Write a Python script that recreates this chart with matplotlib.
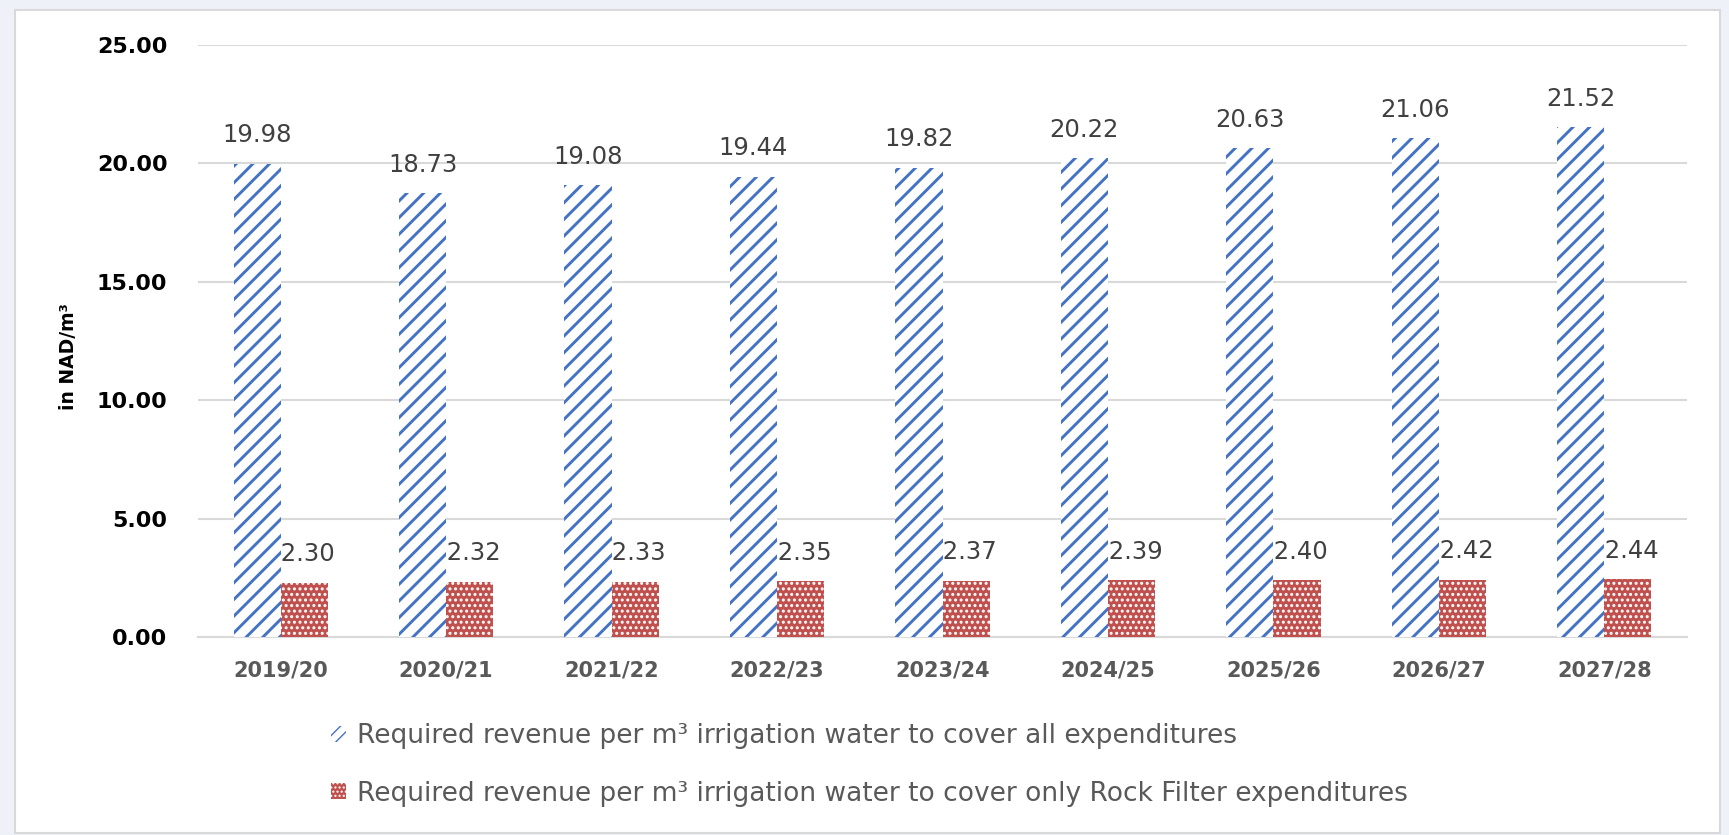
import matplotlib
matplotlib.use("Agg")
import matplotlib.pyplot as plt
from matplotlib.patches import Rectangle, Patch
import numpy as np

categories = ["2019/20", "2020/21", "2021/22", "2022/23", "2023/24",
              "2024/25", "2025/26", "2026/27", "2027/28"]
all_exp = [19.98, 18.73, 19.08, 19.44, 19.82, 20.22, 20.63, 21.06, 21.52]
rock_exp = [2.30, 2.32, 2.33, 2.35, 2.37, 2.39, 2.40, 2.42, 2.44]
labels = ["Required revenue per m\u00b3 irrigation water to cover all expenditures",
          "Required revenue per m\u00b3 irrigation water to cover only Rock Filter expenditures"]
yticks = [0, 5, 10, 15, 20, 25]

plt.rcParams['font.family'] = ['DejaVu Sans']

W, H = 1729, 835
fig = plt.figure(figsize=(W / 100, H / 100), dpi=100, facecolor="#EEF2F8")
fig.patches.append(Rectangle((15 / W, 2 / H), (1720 - 15) / W, (825 - 2) / H,
                             transform=fig.transFigure, facecolor="white",
                             edgecolor="#D9D9D9", linewidth=1.5, zorder=-5))

ax = fig.add_axes([198 / W, 1 - 637 / H, (1687 - 198) / W, (637 - 45) / H])
ax.set_facecolor("none")
ax.set_zorder(2)

x = np.arange(len(categories))
bw = 0.285

with plt.rc_context({'hatch.linewidth': 2.1}):
    b1 = ax.bar(x - bw / 2, all_exp, bw, facecolor="white", edgecolor="#4472C4",
                linewidth=0, hatch="//", zorder=3)
with plt.rc_context({'hatch.linewidth': 1.4}):
    b2 = ax.bar(x + bw / 2, rock_exp, bw, facecolor="#C0504D", edgecolor="white",
                linewidth=0, hatch="...", zorder=3)

ax.bar_label(b1, labels=[f"{v:.2f}" for v in all_exp], padding=12,
             fontsize=17.5, color="#404040")
ax.bar_label(b2, labels=[f" {v:.2f}" for v in rock_exp], padding=12,
             fontsize=17.5, color="#404040")

ax.set_xlim(-0.5, len(categories) - 0.5)
ax.set_ylim(0, 25)
ax.set_yticks(yticks)
ax.set_yticklabels([f"{v:.2f}" for v in yticks], fontsize=16, fontweight="bold",
                   color="black")
ax.set_xticks(x)
ax.set_xticklabels(categories, fontsize=15, fontweight="bold", color="#595959")
ax.tick_params(axis="y", length=0, pad=22)
ax.tick_params(axis="x", length=0, pad=17)
ax.grid(axis="y", color="#D9D9D9", linewidth=1.5, zorder=0)
for s in ["left", "right", "top"]:
    ax.spines[s].set_visible(False)
ax.spines["bottom"].set_color("#D9D9D9")
ax.spines["bottom"].set_linewidth(1.5)

fig.text(68 / W, 1 - 357 / H, "in NAD/m\u00b3", rotation=90, ha="center",
         va="center", fontsize=13.5, fontweight="bold", color="black")

with plt.rc_context({'hatch.linewidth': 2.0}):
    h1 = Patch(facecolor="white", edgecolor="#4472C4", linewidth=0, hatch="///")
with plt.rc_context({'hatch.linewidth': 1.2}):
    h2 = Patch(facecolor="#C0504D", edgecolor="white", linewidth=0, hatch="....")
leg = fig.legend([h1, h2], labels, loc="upper left",
                 bbox_to_anchor=(331 / W, 1 - 723 / H), frameon=False,
                 fontsize=19, labelcolor="#595959", handlelength=0.55,
                 handleheight=0.55, handletextpad=0.45, labelspacing=1.2,
                 borderaxespad=0, borderpad=0)

fig.savefig("out.png", dpi=100, facecolor=fig.get_facecolor())
